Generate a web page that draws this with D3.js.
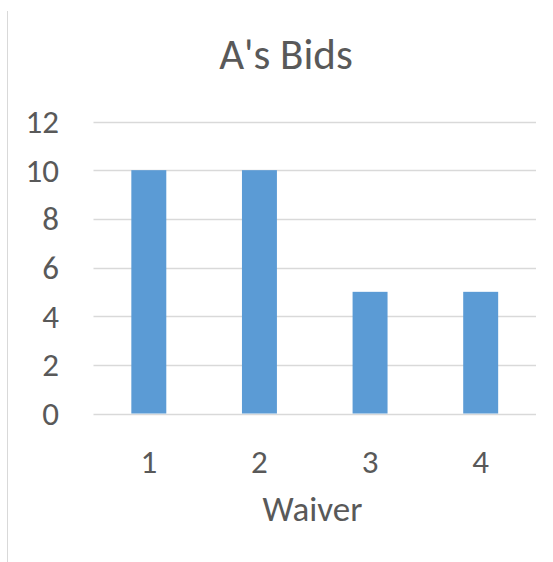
<!DOCTYPE html>
<html><head><meta charset="utf-8">
<script src="https://cdn.jsdelivr.net/npm/d3@7"></script>
<style>body{margin:0;background:#fff}text{font-family:Carlito,Calibri,Lato,sans-serif;fill:#595959}</style>
</head><body><svg id="c" width="553" height="562"></svg>
<script>
const categories = ["1","2","3","4"];
const values = [10,10,5,5];
const yTicks = [0,2,4,6,8,10,12];
const title = "A's Bids";
const xTitle = "Waiver";

const svg = d3.select("#c");
svg.append("rect").attr("width",553).attr("height",562).attr("fill","#fff");
svg.append("line").attr("x1",7.5).attr("x2",7.5).attr("y1",11).attr("y2",562).attr("stroke","#d9d9d9");

const x = d3.scaleBand().domain(categories).range([93.5,536]).paddingInner(0.684).paddingOuter(0.342);
const y = d3.scaleLinear().domain([0,12]).range([413.5,121.5]);

svg.append("g").selectAll("line").data(yTicks).join("line")
  .attr("x1",93.5).attr("x2",536).attr("y1",d=>Math.round(y(d))+0.5).attr("y2",d=>Math.round(y(d))+0.5)
  .attr("stroke","#d9d9d9").attr("stroke-width",1.5);

svg.append("g").selectAll("rect").data(values).join("rect")
  .attr("x",(d,i)=>x(categories[i])).attr("width",x.bandwidth())
  .attr("y",d=>y(d)).attr("height",d=>y(0)-y(d)).attr("fill","#5b9bd5");

svg.append("g").selectAll("text").data(yTicks).join("text")
  .attr("x",59).attr("y",d=>y(d)+11.5).attr("text-anchor","end").attr("font-size",33).text(d=>d);

svg.append("g").selectAll("text").data(categories).join("text")
  .attr("x",d=>x(d)+x.bandwidth()/2).attr("y",473).attr("text-anchor","middle").attr("font-size",33).text(d=>d);

svg.append("text").attr("x",286).attr("y",69).attr("text-anchor","middle").attr("font-size",43).text(title);
svg.append("text").attr("x",312.5).attr("y",521).attr("text-anchor","middle").attr("font-size",35).text(xTitle);
</script></body></html>
